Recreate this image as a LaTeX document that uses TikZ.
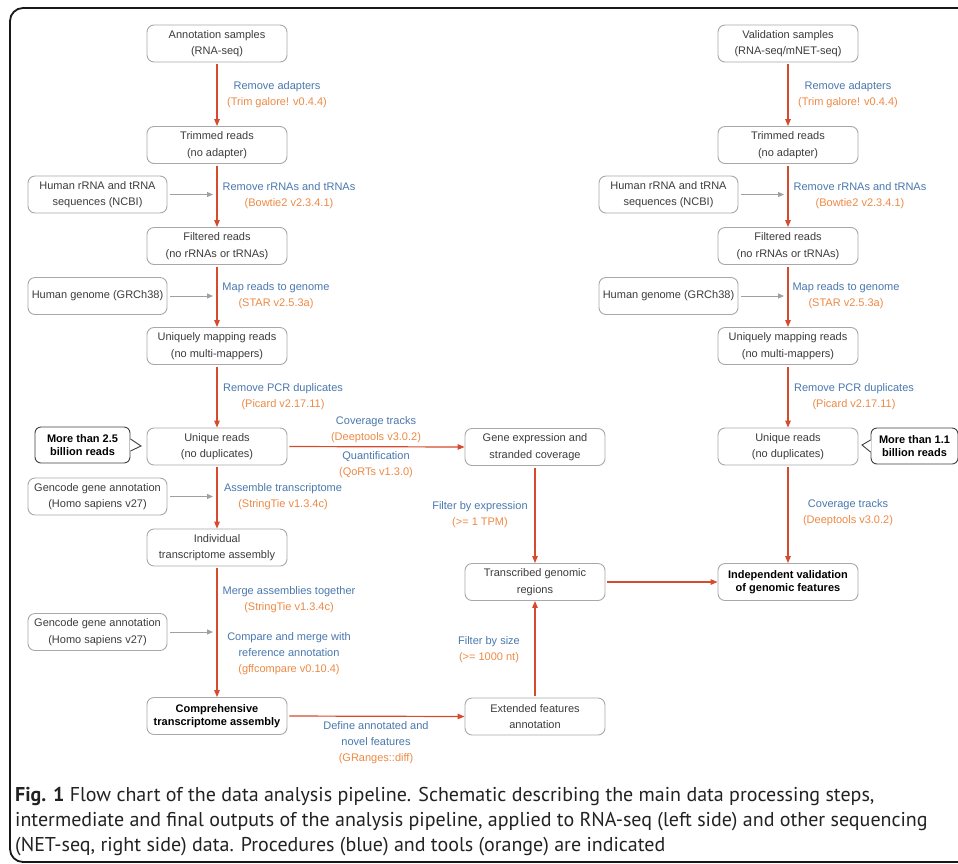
\documentclass[tikz,border=0pt]{standalone}
\usepackage{fontspec}
\setmainfont{Liberation Sans}
\newfontfamily\capfont{PT Sans}
\usetikzlibrary{arrows.meta}
\definecolor{boxgray}{HTML}{A8A8A8}
\definecolor{txtgray}{HTML}{3C3C3C}
\definecolor{procblue}{HTML}{4A78AE}
\definecolor{toolorange}{HTML}{EE8A45}
\definecolor{flowred}{HTML}{D64A2E}
\definecolor{sidegray}{HTML}{A0A0A0}
\definecolor{capcol}{HTML}{222222}
\begin{document}
\begin{tikzpicture}[x=1pt,y=-1pt,
  box/.style={draw=boxgray, line width=0.9pt, rounded corners=7pt, minimum width=140pt, minimum height=37pt, align=center, text=txtgray, font=\fontsize{11}{16.5}\selectfont, inner sep=0pt},
  boldbox/.style={box, text=black, font=\fontsize{11}{13.5}\selectfont\bfseries},
  sidebox/.style={box, minimum width=139pt},
  callbox/.style={draw=black!75, line width=0.9pt, rounded corners=6pt, minimum height=36pt, align=center, font=\fontsize{11}{13.5}\selectfont\bfseries, inner sep=0pt},
  lbl/.style={align=center, font=\fontsize{11}{16}\selectfont, inner sep=0pt},
  flow/.style={draw=flowred, line width=1.2pt, -{Triangle[length=7pt,width=5.5pt]}, shorten <=2pt},
  side/.style={draw=sidegray, line width=1pt, -{Triangle[length=6pt,width=5pt]}},
  capline/.style={anchor=base west, inner sep=0pt, text=capcol, font=\capfont\fontsize{20}{24}\selectfont},
]
\useasboundingbox (0,0) rectangle (958,863);
\clip (0,0) rectangle (958,863);
\fill[white] (0,0) rectangle (958,863);
\draw[line width=1.8pt, draw=black!90, rounded corners=13pt] (10,8) rectangle (1000,862);

% ---------------- left column ----------------
\node[box] (a1) at (217,43.5) {Annotation samples\\(RNA-seq)};
\node[box] (a2) at (217,145) {Trimmed reads\\(no adapter)};
\node[box] (a3) at (217,246) {Filtered reads\\(no rRNAs or tRNAs)};
\node[box] (a4) at (217,346) {Uniquely mapping reads\\(no multi-mappers)};
\node[box] (a5) at (217,446.5) {Unique reads\\(no duplicates)};
\node[box] (a6) at (217,547.5) {Individual\\transcriptome assembly};
\node[boldbox] (a7) at (217,716) {Comprehensive\\transcriptome assembly};

\node[sidebox] (s1) at (97.5,194.5) {Human rRNA and tRNA\\sequences (NCBI)};
\node[sidebox] (s2) at (97.5,296) {Human genome (GRCh38)};
\node[sidebox] (s3) at (97.5,496.5) {Gencode gene annotation\\(Homo sapiens v27)};
\node[sidebox] (s4) at (97.5,632) {Gencode gene annotation\\(Homo sapiens v27)};

\node[callbox, minimum width=95pt] (c1) at (82.5,445) {More than 2.5\\billion reads};
\coordinate (c1tip) at (141,446);
\fill[white] ([yshift=6pt,xshift=-0.7pt]c1.east) -- (c1tip) -- ([yshift=-6pt,xshift=-0.7pt]c1.east) -- cycle;
\draw[draw=black!75, line width=0.9pt] ([yshift=6pt]c1.east) -- (c1tip) -- ([yshift=-6pt]c1.east);

\draw[flow] (a1) -- (a2);
\draw[flow] (a2) -- (a3);
\draw[flow] (a3) -- (a4);
\draw[flow] (a4) -- (a5);
\draw[flow] (a5) -- (a6);
\draw[flow] (a6) -- (a7);

\draw[side] ([xshift=3pt]s1.east) -- ([xshift=-4pt]s1.east -| a2.south);
\draw[side] ([xshift=3pt]s2.east) -- ([xshift=-4pt]s2.east -| a2.south);
\draw[side] ([xshift=3pt]s3.east) -- ([xshift=-4pt]s3.east -| a2.south);
\draw[side] ([xshift=3pt]s4.east) -- ([xshift=-4pt]s4.east -| a2.south);

\node[lbl] (l1) at (277,95) {\textcolor{procblue}{Remove adapters}\\\textcolor{toolorange}{(Trim galore! v0.4.4)}};
\node[lbl] (l2) at (289,195.5) {\textcolor{procblue}{Remove rRNAs and tRNAs}\\\textcolor{toolorange}{(Bowtie2 v2.3.4.1)}};
\node[lbl] (l3) at (276,295.5) {\textcolor{procblue}{Map reads to genome}\\\textcolor{toolorange}{(STAR v2.5.3a)}};
\node[lbl] (l4) at (283,396.5) {\textcolor{procblue}{Remove PCR duplicates}\\\textcolor{toolorange}{(Picard v2.17.11)}};
\node[lbl] (l5) at (283,497) {\textcolor{procblue}{Assemble transcriptome}\\\textcolor{toolorange}{(StringTie v1.3.4c)}};
\node[lbl] (l6) at (289,600) {\textcolor{procblue}{Merge assemblies together}\\\textcolor{toolorange}{(StringTie v1.3.4c)}};
\node[lbl] (l7) at (289,654) {\textcolor{procblue}{Compare and merge with}\\\textcolor{procblue}{reference annotation}\\\textcolor{toolorange}{(gffcompare v0.10.4)}};

% ---------------- middle column ----------------
\node[box] (m1) at (535,447) {Gene expression and\\stranded coverage};
\node[box] (m2) at (535,582) {Transcribed genomic\\regions};
\node[box] (m3) at (535,716.5) {Extended features\\annotation};

\draw[flow] (a5.east) -- (m1.west);
\draw[flow] (a7.east) -- (m3.west);
\draw[flow] (m1) -- (m2);
\draw[flow] (m3) -- (m2);

\node[lbl] (l8) at (376,429.5) {\textcolor{procblue}{Coverage tracks}\\\textcolor{toolorange}{(Deeptools v3.0.2)}};
\node[lbl] (l9) at (376,464.5) {\textcolor{procblue}{Quantification}\\\textcolor{toolorange}{(QoRTs v1.3.0)}};
\node[lbl] (l10) at (376,743) {\textcolor{procblue}{Define annotated and}\\\textcolor{procblue}{novel features}\\\textcolor{toolorange}{(GRanges::diff)}};
\node[lbl] (l11) at (480,515) {\textcolor{procblue}{Filter by expression}\\\textcolor{toolorange}{(>= 1 TPM)}};
\node[lbl] (l12) at (489,649.5) {\textcolor{procblue}{Filter by size}\\\textcolor{toolorange}{(>= 1000 nt)}};

% ---------------- right column ----------------
\node[box] (b1) at (788,43.5) {Validation samples\\(RNA-seq/mNET-seq)};
\node[box] (b2) at (788,145) {Trimmed reads\\(no adapter)};
\node[box] (b3) at (788,246) {Filtered reads\\(no rRNAs or tRNAs)};
\node[box] (b4) at (788,346) {Uniquely mapping reads\\(no multi-mappers)};
\node[box] (b5) at (788,446.5) {Unique reads\\(no duplicates)};
\node[boldbox] (b6) at (788,582) {Independent validation\\of genomic features};

\node[sidebox] (r1) at (668.5,194.5) {Human rRNA and tRNA\\sequences (NCBI)};
\node[sidebox] (r2) at (668.5,296) {Human genome (GRCh38)};

\node[callbox, minimum width=87pt] (c2) at (914.5,446) {More than 1.1\\billion reads};
\coordinate (c2tip) at (862,445);
\fill[white] ([yshift=6pt,xshift=0.7pt]c2.west) -- (c2tip) -- ([yshift=-6pt,xshift=0.7pt]c2.west) -- cycle;
\draw[draw=black!75, line width=0.9pt] ([yshift=6pt]c2.west) -- (c2tip) -- ([yshift=-6pt]c2.west);

\draw[flow] (b1) -- (b2);
\draw[flow] (b2) -- (b3);
\draw[flow] (b3) -- (b4);
\draw[flow] (b4) -- (b5);
\draw[flow] (b5) -- (b6);
\draw[flow] (m2.east) -- (b6.west);

\draw[side] ([xshift=3pt]r1.east) -- ([xshift=-4pt]r1.east -| b2.south);
\draw[side] ([xshift=3pt]r2.east) -- ([xshift=-4pt]r2.east -| b2.south);

\node[lbl] (k1) at (848,95) {\textcolor{procblue}{Remove adapters}\\\textcolor{toolorange}{(Trim galore! v0.4.4)}};
\node[lbl] (k2) at (860,195.5) {\textcolor{procblue}{Remove rRNAs and tRNAs}\\\textcolor{toolorange}{(Bowtie2 v2.3.4.1)}};
\node[lbl] (k3) at (846,295.5) {\textcolor{procblue}{Map reads to genome}\\\textcolor{toolorange}{(STAR v2.5.3a)}};
\node[lbl] (k4) at (854,396.5) {\textcolor{procblue}{Remove PCR duplicates}\\\textcolor{toolorange}{(Picard v2.17.11)}};
\node[lbl] (k5) at (848,513) {\textcolor{procblue}{Coverage tracks}\\\textcolor{toolorange}{(Deeptools v3.0.2)}};

% ---------------- caption ----------------
\node[capline] (cap1) at (15,801) {\textbf{Fig. 1} Flow chart of the data analysis pipeline. Schematic describing the main data processing steps,};
\node[capline] (cap2) at (15,826) {intermediate and final outputs of the analysis pipeline, applied to RNA-seq (left side) and other sequencing};
\node[capline] (cap3) at (15,851) {(NET-seq, right side) data. Procedures (blue) and tools (orange) are indicated};
\end{tikzpicture}
\end{document}
